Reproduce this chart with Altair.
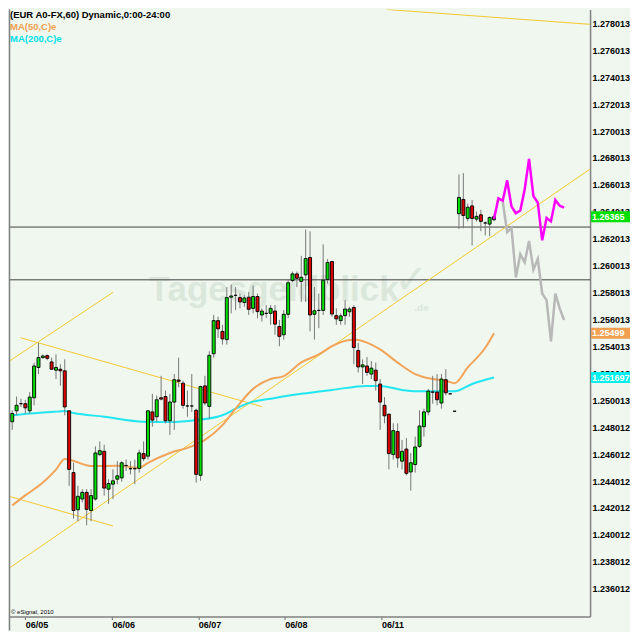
import altair as alt
import pandas as pd
import numpy as np

# ---------------- data ----------------
opens = [1.24842, 1.24923, 1.24976, 1.24976, 1.24923, 1.25020, 1.25245, 1.25318, 1.25333, 1.25286,
         1.25225, 1.25232, 1.25220, 1.24923, 1.24464, 1.24188, 1.24268, 1.24317, 1.24183, 1.24268,
         1.24598, 1.24622, 1.24341, 1.24378, 1.24415, 1.24425, 1.24517, 1.24493, 1.24493, 1.24495,
         1.24605, 1.24586, 1.24915, 1.24879, 1.25020, 1.25029, 1.24849, 1.24988, 1.25152, 1.25128,
         1.24959, 1.24959, 1.24927, 1.24444, 1.25108, 1.24956, 1.25347, 1.25593, 1.25513, 1.25452,
         1.25767, 1.25781, 1.25764, 1.25728, 1.25767, 1.25684, 1.25772, 1.25635, 1.25647, 1.25647,
         1.25664, 1.25549, 1.25488, 1.25640, 1.25891, 1.25940, 1.25884, 1.25933, 1.26062, 1.25640,
         1.25669, 1.25669, 1.25898, 1.26032, 1.25630, 1.25593, 1.25630, 1.25659, 1.25690, 1.25371,
         1.25249, 1.25256, 1.25196, 1.25225, 1.25122, 1.24964, 1.24898, 1.24598, 1.24769, 1.24549,
         1.24639, 1.24469, 1.24524, 1.24659, 1.24805, 1.24915, 1.25062, 1.25062, 1.24981, 1.25154,
         1.25049, 1.24920, 1.26387, 1.26493, 1.26352, 1.26445, 1.26347, 1.26379, 1.26318, 1.26310,
         1.26343]
highs = [1.24927, 1.25029, 1.25013, 1.25005, 1.25062, 1.25281, 1.25428, 1.25342, 1.25342, 1.25318,
         1.25342, 1.25269, 1.25305, 1.24923, 1.24537, 1.24366, 1.24341, 1.24341, 1.24341, 1.24659,
         1.24696, 1.24671, 1.24415, 1.24488, 1.24549, 1.24549, 1.24561, 1.24549, 1.24561, 1.24634,
         1.24696, 1.24927, 1.25049, 1.25037, 1.25183, 1.25073, 1.25049, 1.25196, 1.25318, 1.25147,
         1.25073, 1.25196, 1.24939, 1.25110, 1.25183, 1.25366, 1.25635, 1.25622, 1.25562, 1.25842,
         1.25860, 1.25842, 1.25794, 1.25781, 1.25805, 1.25854, 1.25794, 1.25684, 1.25708, 1.25708,
         1.25708, 1.25598, 1.25671, 1.25903, 1.25957, 1.25957, 1.26074, 1.26269, 1.26257, 1.25842,
         1.25794, 1.26160, 1.26050, 1.26037, 1.25684, 1.25647, 1.25745, 1.25696, 1.25708, 1.25428,
         1.25305, 1.25322, 1.25293, 1.25281, 1.25159, 1.25025, 1.24903, 1.24830, 1.24830, 1.24707,
         1.24720, 1.24610, 1.24732, 1.24927, 1.24939, 1.25086, 1.25183, 1.25196, 1.25196, 1.25232,
         1.25049, 1.24920, 1.26679, 1.26689, 1.26462, 1.26489, 1.26403, 1.26416, 1.26330, 1.26367,
         1.26387]
lows = [1.24781, 1.24890, 1.24952, 1.24903, 1.24903, 1.24964, 1.25196, 1.25311, 1.25298, 1.25227,
        1.25159, 1.25110, 1.24890, 1.24366, 1.24122, 1.24103, 1.24244, 1.24073, 1.24103, 1.24256,
        1.24586, 1.24293, 1.24232, 1.24268, 1.24378, 1.24396, 1.24476, 1.24451, 1.24378, 1.24464,
        1.24549, 1.24561, 1.24805, 1.24842, 1.25000, 1.24830, 1.24744, 1.24781, 1.25098, 1.24939,
        1.24879, 1.24915, 1.24390, 1.24403, 1.24964, 1.24866, 1.25318, 1.25464, 1.25415, 1.25415,
        1.25647, 1.25671, 1.25684, 1.25696, 1.25635, 1.25647, 1.25611, 1.25586, 1.25613, 1.25562,
        1.25488, 1.25403, 1.25452, 1.25611, 1.25879, 1.25842, 1.25732, 1.25732, 1.25513, 1.25452,
        1.25537, 1.25635, 1.25867, 1.25622, 1.25562, 1.25562, 1.25562, 1.25622, 1.25269, 1.25208,
        1.25122, 1.25183, 1.25159, 1.25073, 1.24781, 1.24830, 1.24488, 1.24561, 1.24500, 1.24488,
        1.24444, 1.24330, 1.24464, 1.24647, 1.24732, 1.24890, 1.24976, 1.24964, 1.24939, 1.25037,
        1.25049, 1.24920, 1.26274, 1.26279, 1.26330, 1.26152, 1.26330, 1.26257, 1.26226, 1.26220,
        1.26330]
closes = [1.24903, 1.24964, 1.24976, 1.24945, 1.25025, 1.25256, 1.25318, 1.25330, 1.25313, 1.25232,
          1.25245, 1.25220, 1.24952, 1.24488, 1.24183, 1.24288, 1.24317, 1.24191, 1.24293, 1.24610,
          1.24627, 1.24349, 1.24383, 1.24403, 1.24440, 1.24537, 1.24517, 1.24493, 1.24493, 1.24610,
          1.24568, 1.24923, 1.24854, 1.25005, 1.25010, 1.24849, 1.24988, 1.25154, 1.25142, 1.24964,
          1.24959, 1.24959, 1.24451, 1.25103, 1.24981, 1.25335, 1.25593, 1.25532, 1.25457, 1.25764,
          1.25776, 1.25781, 1.25732, 1.25761, 1.25677, 1.25772, 1.25660, 1.25664, 1.25647, 1.25684,
          1.25567, 1.25476, 1.25640, 1.25874, 1.25940, 1.25908, 1.25915, 1.26054, 1.25635, 1.25666,
          1.25669, 1.25893, 1.26025, 1.25642, 1.25606, 1.25628, 1.25679, 1.25679, 1.25393, 1.25249,
          1.25264, 1.25208, 1.25240, 1.25147, 1.24988, 1.24886, 1.24605, 1.24776, 1.24573, 1.24622,
          1.24459, 1.24537, 1.24654, 1.24810, 1.24915, 1.25069, 1.25062, 1.25005, 1.25159, 1.25057,
          1.25049, 1.24920, 1.26508, 1.26374, 1.26435, 1.26352, 1.26367, 1.26330, 1.26318, 1.26359,
          1.26365]
bar_idx = list(range(len(opens)))

ma50_idx = [0, 3, 7, 10, 12, 18, 24, 29, 31, 36, 41, 44, 48, 51, 55, 59, 62, 66, 70, 73,
            78, 81, 84, 88, 92, 96, 99, 101, 104, 108, 110]
ma50_val = [1.24220, 1.24295, 1.24390, 1.24486, 1.24566, 1.24513, 1.24515, 1.24500, 1.24537, 1.24610,
            1.24659, 1.24707, 1.24817, 1.24939, 1.25086, 1.25159, 1.25181, 1.25283, 1.25342, 1.25403,
            1.25452, 1.25430, 1.25379, 1.25281, 1.25196, 1.25159, 1.25147, 1.25128, 1.25245, 1.25391,
            1.25499]
ma200_idx = [0, 4, 10, 12, 14, 21, 30, 36, 42, 48, 51, 55, 59, 66, 73, 81, 84, 89, 92, 101, 105, 110]
ma200_val = [1.24890, 1.24903, 1.24917, 1.24921, 1.24907, 1.24879, 1.24842, 1.24839, 1.24854, 1.24890,
             1.24939, 1.24991, 1.25013, 1.25049, 1.25078, 1.25108, 1.25108, 1.25078, 1.25068, 1.25068,
             1.25122, 1.25170]

proj_up_idx = list(range(110, 127))
proj_up_val = [1.26348, 1.26501, 1.26484, 1.26635, 1.26440, 1.26391, 1.26411, 1.26567, 1.26794,
               1.26518, 1.26469, 1.26189, 1.26355, 1.26330, 1.26489, 1.26447, 1.26433]
proj_dn_idx = list(range(112, 127))
proj_dn_val = [1.26477, 1.26250, 1.26281, 1.25915, 1.26086, 1.26025, 1.26184, 1.25972, 1.26050,
               1.25794, 1.25745, 1.25439, 1.25794, 1.25684, 1.25598]

trend_id = ["t1", "t1", "t2", "t2", "t3", "t3", "t4", "t4", "t5", "t5"]
trend_idx = [85.5, 131.9, -0.7, 131.9, 1.9, 57.0, -0.7, 23.0, -0.7, 23.0]
trend_val = [1.27904, 1.27794, 1.23754, 1.26718, 1.25466, 1.24954, 1.24288, 1.24068, 1.25291, 1.25803]

hline_val = [1.26288, 1.25896]

day_pos = [3.0, 22.8, 42.5, 62.2, 84.3]
day_lab = ["06/05", "06/06", "06/07", "06/08", "06/11"]

y_ticks = [1.236012, 1.238012, 1.240012, 1.242012, 1.244012, 1.246012, 1.248012, 1.250013,
           1.252013, 1.254013, 1.256013, 1.258013, 1.260013, 1.262013, 1.264013, 1.266013,
           1.268013, 1.270013, 1.272013, 1.274013, 1.276013, 1.278013]

tag_val = [1.26365, 1.25499, 1.251697]
tag_lab = ["1.26365", "1.25499", "1.251697"]
tag_col = ["#00E000", "#F0A050", "#00F0F0"]

header = ["(EUR A0-FX,60) Dynamic,0:00-24:00", "MA(50,C)e", "MA(200,C)e"]
header_col = ["#000000", "#F0A050", "#00E0E8"]

# ---------------- layout ----------------
W, H = 582, 608
XDOM = [-0.73, 131.93]
YDOM = [1.23395, 1.27904]
FONT = "Liberation Sans"

xs = alt.Scale(domain=XDOM, nice=False, zero=False, padding=0)
ys = alt.Scale(domain=YDOM, nice=False, zero=False)

mids = [(day_pos[k] + day_pos[k + 1]) / 2 for k in range(len(day_pos) - 1)]
expr = ""
for k, m in enumerate(mids):
    expr += f"datum.value < {m} ? '{day_lab[k]}' : "
expr += f"'{day_lab[-1]}'"

xaxis = alt.Axis(orient="bottom", values=day_pos, labelExpr=expr, labelAlign="left",
                 tickSize=3, tickColor="#707070", domainColor="#808080", domainWidth=1.5,
                 labelFontSize=9, labelFontWeight="bold", labelFont=FONT, labelColor="#000",
                 labelPadding=1, grid=False, title=None, labelOverlap=False, labelFlush=False)
yaxis = alt.Axis(orient="right", values=y_ticks, format=".6f", labelFontSize=9,
                 labelFontWeight="bold", labelFont=FONT, labelColor="#000", ticks=False,
                 labelPadding=2, domainColor="#808080", domainWidth=1.5, grid=False, title=None,
                 labelOverlap=False, labelFlush=False)


def X(f):
    return alt.X(f, type="quantitative", scale=xs, axis=xaxis)


def Y(f):
    return alt.Y(f, type="quantitative", scale=ys, axis=yaxis)


candles = pd.DataFrame({"i": bar_idx, "open": opens, "high": highs, "low": lows, "close": closes})
candles["dir"] = np.where(candles.close > candles.open, "up",
                          np.where(candles.close < candles.open, "down", "flat"))

ma50 = pd.DataFrame({"i": ma50_idx, "v": ma50_val})
ma200 = pd.DataFrame({"i": ma200_idx, "v": ma200_val})
pup = pd.DataFrame({"i": proj_up_idx, "v": proj_up_val})
pdn = pd.DataFrame({"i": proj_dn_idx, "v": proj_dn_val})
trends = pd.DataFrame({"g": trend_id, "i": trend_idx, "v": trend_val})
hl = pd.DataFrame({"v": hline_val})
tags = pd.DataFrame({"p": tag_val, "lab": tag_lab, "col": tag_col})
half = (YDOM[1] - YDOM[0]) / H * 5.5
tags["top"] = tags.p + half
tags["bot"] = tags.p - half

WM = "#DCE7DC"
watermark = alt.Chart(pd.DataFrame({"t": ["Tagesgeldblick"]})).mark_text(
    font=FONT, fontSize=35, fontWeight="bold", color=WM, align="left", baseline="alphabetic"
).encode(text="t", x=alt.value(140), y=alt.value(292))
check = alt.Chart(pd.DataFrame({"t": ["\u2713"]})).mark_text(
    font="DejaVu Sans", fontSize=40, color=WM, align="left", baseline="alphabetic"
).encode(text="t", x=alt.value(386), y=alt.value(284))
dotde = alt.Chart(pd.DataFrame({"t": [".de"]})).mark_text(
    font=FONT, fontSize=10, fontWeight="bold", color=WM, align="left", baseline="alphabetic"
).encode(text="t", x=alt.value(406), y=alt.value(302))

hlines = alt.Chart(hl).mark_rule(color="#404040", strokeWidth=1).encode(y=Y("v"))

tr = alt.Chart(trends).mark_line(color="#F2C830", strokeWidth=1, clip=True).encode(
    x=X("i"), y=Y("v"), detail="g")

m200 = alt.Chart(ma200).mark_line(color="#22E6F0", strokeWidth=2, interpolate="monotone").encode(
    x=X("i"), y=Y("v"))
m50 = alt.Chart(ma50).mark_line(color="#F2A45A", strokeWidth=2, interpolate="monotone").encode(
    x=X("i"), y=Y("v"))

wicks = alt.Chart(candles).mark_rule(color="#777777", strokeWidth=1).encode(
    x=X("i"), y=Y("low"), y2="high")
bodies = alt.Chart(candles).mark_bar(size=3, stroke="#000000", strokeWidth=0.9).encode(
    x=X("i"), y=Y("open"), y2="close",
    color=alt.Color("dir:N", scale=alt.Scale(domain=["up", "down", "flat"],
                                             range=["#00E000", "#E00000", "#000000"]), legend=None))

gray = alt.Chart(pdn).mark_line(color="#B8B8B8", strokeWidth=2.5).encode(x=X("i"), y=Y("v"))
mag = alt.Chart(pup).mark_line(color="#FF00FF", strokeWidth=2.5).encode(x=X("i"), y=Y("v"))

tag_rect = alt.Chart(tags).mark_rect().encode(
    x=alt.value(W + 1), x2=alt.value(W + 40), y=Y("top"), y2="bot",
    color=alt.Color("col:N", scale=None))
tag_text = alt.Chart(tags).mark_text(font=FONT, fontSize=9, fontWeight="bold", color="white",
                                      align="left", baseline="middle").encode(
    x=alt.value(W + 2), y=Y("p"), text="lab")

hdr = pd.DataFrame({"t": header, "c": header_col, "yy": [1, 13, 25]})
header_text = alt.Chart(hdr).mark_text(font=FONT, fontSize=9.5, fontWeight="bold", align="left",
                                       baseline="top").encode(
    text="t", x=alt.value(1), y=alt.Y("yy:Q", scale=None), color=alt.Color("c:N", scale=None))

copy_text = alt.Chart(pd.DataFrame({"t": ["\u00a9 eSignal, 2010"]})).mark_text(
    font=FONT, fontSize=6, color="#000", align="left", baseline="bottom").encode(
    text="t", x=alt.value(2), y=alt.value(606))

left_border = alt.Chart(pd.DataFrame({"a": [0]})).mark_rule(color="#808080", strokeWidth=1.5).encode(
    x=alt.value(0.5), y=alt.value(0), y2=alt.value(H + 14))

chart = alt.layer(
    watermark, check, dotde, hlines, tr, m200, m50, wicks, bodies, gray, mag,
    tag_rect, tag_text, header_text, copy_text, left_border
).properties(width=W, height=H, padding=0, background="#EFF7EF").configure_view(stroke=None)

chart.save("out.html", embed_options={"renderer": "svg", "actions": False})
